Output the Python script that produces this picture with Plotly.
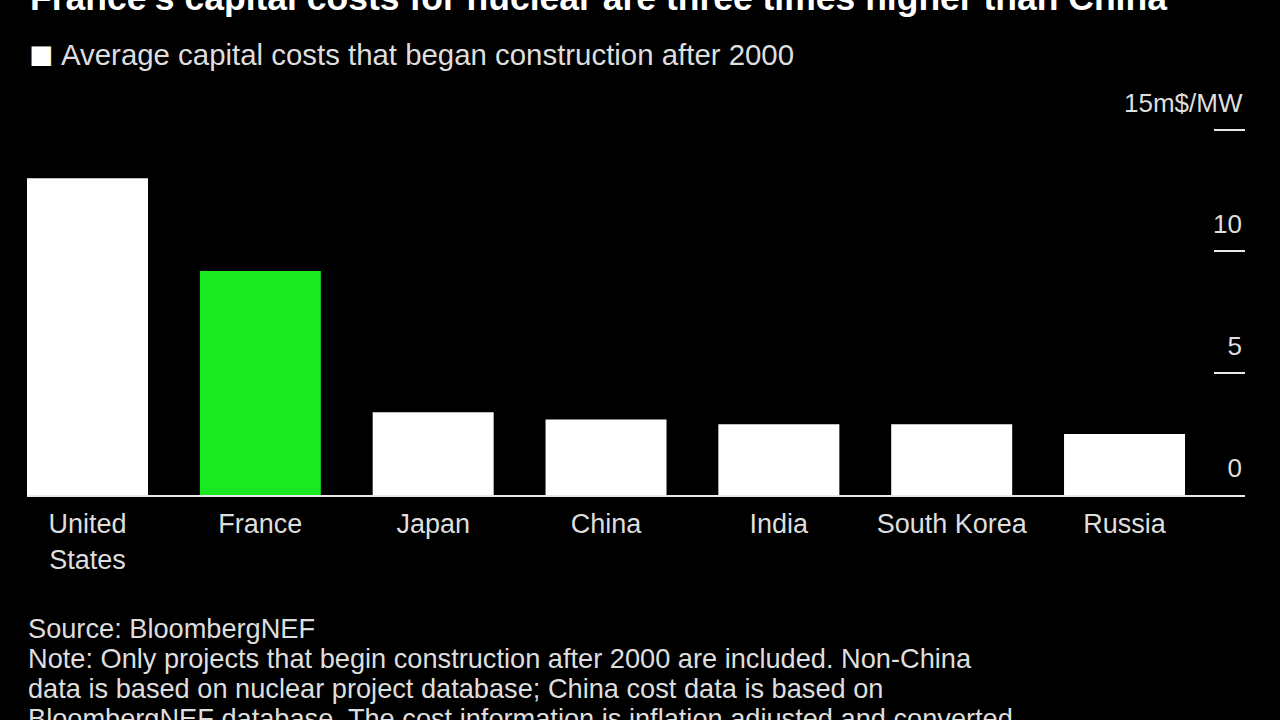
import plotly.graph_objects as go

countries = ["United<br>States", "France", "Japan", "China", "India", "South Korea", "Russia"]
costs = [13.0, 9.2, 3.4, 3.1, 2.9, 2.9, 2.5]
bar_colors = ["#ffffff", "#1ae820", "#ffffff", "#ffffff", "#ffffff", "#ffffff", "#ffffff"]
y_tickvals = [0, 5, 10, 15]
y_ticktext = ["0", "5", "10", ""]
y_unit_label = "15m$/MW"

title = "France's capital costs for nuclear are three times higher than China"
legend_text = "Average capital costs that began construction after 2000"
footer_lines = [
    "Source: BloombergNEF",
    "Note: Only projects that begin construction after 2000 are included. Non-China",
    "data is based on nuclear project database; China cost data is based on",
    "BloombergNEF database. The cost information is inflation adjusted and converted",
]

FONT = "Liberation Sans"
TXT = "#dedede"
Y_MAX = 16.3

# plot area in pixels (for placing text annotations)
L, R, B = 27, 1245, 495
T = round(B - Y_MAX * (B - 130) / 15)
def px(x):
    return (x - L) / (R - L)
def py(y):
    return (B - y) / (B - T)

fig = go.Figure(go.Bar(
    x=list(range(len(countries))), y=costs,
    marker=dict(color=bar_colors, line=dict(width=0)),
    width=0.7, showlegend=False,
))

annotations = [
    dict(text="<b>" + title + "</b>", xref="paper", yref="paper",
         x=px(28), y=py(20), xanchor="left", yanchor="bottom",
         showarrow=False, font=dict(size=35.5, color="white", family=FONT)),
    dict(text="■", xref="paper", yref="paper", x=px(27), y=py(54),
         xanchor="left", yanchor="middle", showarrow=False,
         font=dict(size=40, color="white", family=FONT)),
    dict(text=legend_text, xref="paper", yref="paper", x=px(59), y=py(55),
         xanchor="left", yanchor="middle", showarrow=False,
         font=dict(size=29.4, color=TXT, family=FONT)),
    dict(text=y_unit_label, xref="paper", yref="y", x=1, y=y_tickvals[-1],
         xanchor="right", yanchor="middle", yshift=27, xshift=0,
         showarrow=False, font=dict(size=26, color=TXT, family=FONT)),
]
for i, line in enumerate(footer_lines):
    annotations.append(dict(
        text=line, xref="paper", yref="paper", x=px(26), y=py(628 + 30 * i),
        xanchor="left", yanchor="middle", showarrow=False,
        font=dict(size=27.2, color=TXT, family=FONT)))

fig.update_layout(
    width=1280, height=720,
    paper_bgcolor="black", plot_bgcolor="black",
    margin=dict(l=L, r=1280 - R, t=T, b=720 - B),
    font=dict(family=FONT, color=TXT, size=27),
    xaxis=dict(
        range=[-0.35, 6.697], tickmode="array",
        tickvals=list(range(len(countries))), ticktext=countries,
        showgrid=False, zeroline=False, showline=True, linecolor="#e8e8e8", linewidth=2,
        ticks="", ticklabelstandoff=4, tickfont=dict(size=27, color=TXT, family=FONT),
    ),
    yaxis=dict(
        range=[0, Y_MAX], side="right",
        tickmode="array", tickvals=y_tickvals, ticktext=y_ticktext,
        showgrid=False, zeroline=False, showline=False,
        ticks="inside", ticklen=31, tickwidth=2, tickcolor="#e8e8e8",
        ticklabelposition="inside top", ticklabelshift=-8,
        tickfont=dict(size=26, color=TXT, family=FONT),
    ),
    annotations=annotations,
)

fig.write_html(
    "out.html",
    config={"displayModeBar": False},
    post_script="document.body.style.margin='0';document.body.style.background='black';",
)
